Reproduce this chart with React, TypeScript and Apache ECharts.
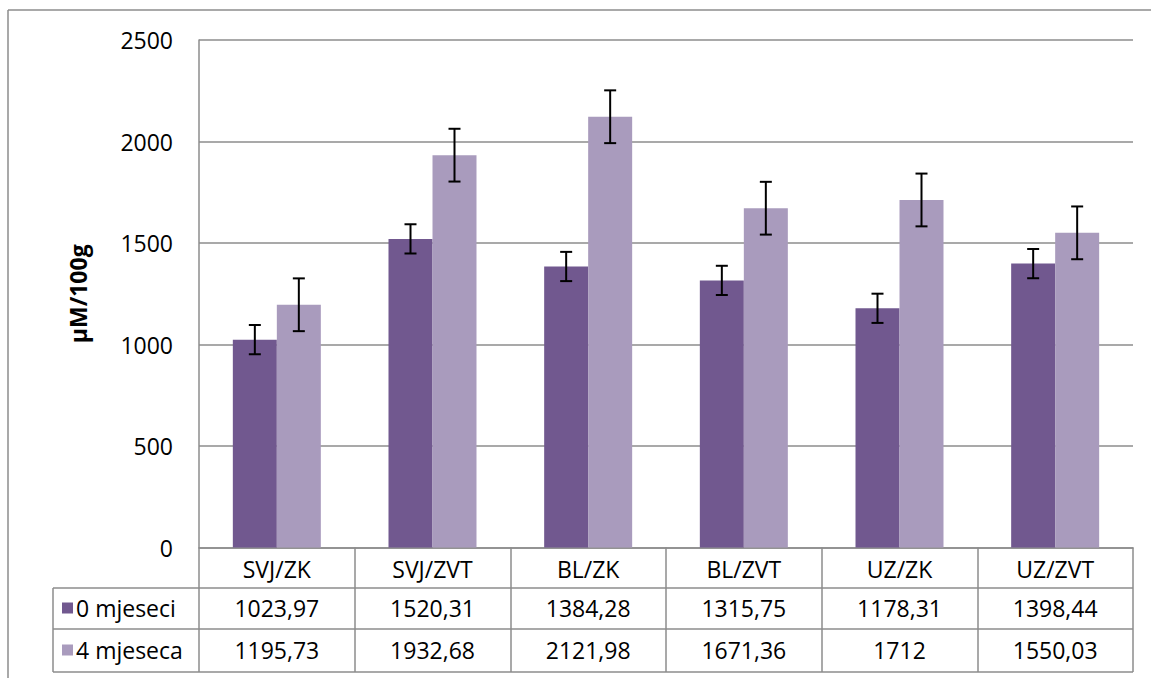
import React, { useEffect, useRef } from "react";
import * as echarts from "echarts";

const categories = ["SVJ/ZK", "SVJ/ZVT", "BL/ZK", "BL/ZVT", "UZ/ZK", "UZ/ZVT"];
const seriesNames = ["0 mjeseci", "4 mjeseca"];
const values0 = [1023.97, 1520.31, 1384.28, 1315.75, 1178.31, 1398.44];
const values1 = [1195.73, 1932.68, 2121.98, 1671.36, 1712, 1550.03];
const errors0 = [72, 72, 72, 72, 72, 72];
const errors1 = [130, 130, 130, 130, 130, 130];
const yMin = 0;
const yMax = 2500;
const yInterval = 500;
const yAxisTitle = "µM/100g";

const COLORS = ["#71588F", "#A99BBD"];
const GRID_COLOR = "#8C8C8C";
const FONT = "Open Sans";
const FS = 23;
const BAR_W = 44;

const W = 1151;
const H = 678;
const GRID_LEFT = 199;
const GRID_RIGHT = 1133;
const GRID_TOP = 40;
const GRID_BOTTOM = 547.5;
const TABLE_LEFT = 53;
const ROW_LINES = [588, 629, 672];
const ROW_CENTERS = [608, 650];

const fmt = (v: number) => String(v).replace(".", ",");

export default function App() {
  const ref = useRef<HTMLDivElement>(null);
  useEffect(() => {
    if (!ref.current) return;
    const chart = echarts.init(ref.current, undefined, { renderer: "svg" });
    const allValues = [values0, values1];
    const allErrors = [errors0, errors1];
    const errData: number[][] = [];
    allValues.forEach((vals, s) => {
      vals.forEach((v, i) => {
        errData.push([i, v - allErrors[s][i], v + allErrors[s][i], s]);
      });
    });

    chart.setOption({
      animation: false,
      textStyle: { fontFamily: FONT },
      grid: {
        left: GRID_LEFT,
        right: W - GRID_RIGHT,
        top: GRID_TOP,
        bottom: H - GRID_BOTTOM,
        containLabel: false,
      },
      xAxis: {
        type: "category",
        data: categories,
        axisLine: { show: true, lineStyle: { color: GRID_COLOR, width: 1.5 } },
        axisTick: {
          show: true,
          interval: 0,
          length: ROW_LINES[2] - GRID_BOTTOM,
          lineStyle: { color: GRID_COLOR, width: 1.5 },
        },
        axisLabel: {
          interval: 0,
          fontSize: FS,
          fontFamily: FONT,
          color: "#000",
          margin: 8,
          lineHeight: 26,
        },
      },
      yAxis: {
        type: "value",
        min: yMin,
        max: yMax,
        interval: yInterval,
        name: yAxisTitle,
        nameLocation: "middle",
        nameRotate: 90,
        nameGap: 110,
        nameTextStyle: { fontSize: FS, fontWeight: "bold", fontFamily: FONT, color: "#000" },
        axisLine: { show: true, lineStyle: { color: GRID_COLOR, width: 1.5 } },
        axisTick: { show: false },
        axisLabel: {
          fontSize: FS,
          fontFamily: FONT,
          color: "#000",
          margin: 26,
          formatter: (v: number) => String(v),
        },
        splitLine: { show: true, lineStyle: { color: GRID_COLOR, width: 1.5 } },
      },
      series: [
        {
          name: seriesNames[0],
          type: "bar",
          data: values0,
          barWidth: BAR_W,
          barGap: "0%",
          itemStyle: { color: COLORS[0] },
        },
        {
          name: seriesNames[1],
          type: "bar",
          data: values1,
          barWidth: BAR_W,
          barGap: "0%",
          itemStyle: { color: COLORS[1] },
        },
        {
          type: "custom",
          z: 10,
          data: errData,
          encode: { x: 0, y: [1, 2] },
          renderItem: (params: any, api: any) => {
            const cat = api.value(0);
            const lo = api.coord([cat, api.value(1)]);
            const hi = api.coord([cat, api.value(2)]);
            const s = api.value(3);
            const x = lo[0] + (s === 0 ? -BAR_W / 2 : BAR_W / 2);
            const cap = 6;
            const st = { stroke: "#000", lineWidth: 2 };
            return {
              type: "group",
              children: [
                { type: "line", shape: { x1: x, y1: hi[1], x2: x, y2: lo[1] }, style: st },
                { type: "line", shape: { x1: x - cap, y1: hi[1], x2: x + cap, y2: hi[1] }, style: st },
                { type: "line", shape: { x1: x - cap, y1: lo[1], x2: x + cap, y2: lo[1] }, style: st },
              ],
            };
          },
        },
      ],
    });

    const xs = categories.map((_, i) => chart.convertToPixel({ xAxisIndex: 0 }, i) as number);
    const lineStyle = { stroke: GRID_COLOR, lineWidth: 1.5 };
    const graphics: any[] = [];
    // outer chart border
    graphics.push({ type: "line", shape: { x1: 8, y1: 10, x2: W, y2: 10 }, style: lineStyle });
    graphics.push({ type: "line", shape: { x1: 8, y1: 10, x2: 8, y2: H }, style: lineStyle });
    // table lines
    ROW_LINES.forEach((y) => {
      graphics.push({ type: "line", shape: { x1: TABLE_LEFT, y1: y, x2: GRID_RIGHT, y2: y }, style: lineStyle });
    });
    graphics.push({
      type: "line",
      shape: { x1: TABLE_LEFT, y1: ROW_LINES[0], x2: TABLE_LEFT, y2: ROW_LINES[2] },
      style: lineStyle,
    });
    // legend cells & values
    allValues.forEach((vals, s) => {
      const cy = ROW_CENTERS[s];
      graphics.push({
        type: "rect",
        shape: { x: 62, y: cy - 5.5, width: 11, height: 11 },
        style: { fill: COLORS[s] },
      });
      graphics.push({
        type: "text",
        x: 76,
        y: cy,
        style: {
          text: seriesNames[s],
          fontSize: FS,
          fontFamily: FONT,
          fill: "#000",
          textAlign: "left",
          textVerticalAlign: "middle",
        },
      });
      vals.forEach((v, i) => {
        graphics.push({
          type: "text",
          x: xs[i],
          y: cy,
          style: {
            text: fmt(v),
            fontSize: FS,
            fontFamily: FONT,
            fill: "#000",
            textAlign: "center",
            textVerticalAlign: "middle",
          },
        });
      });
    });
    chart.setOption({ graphic: graphics });

    return () => chart.dispose();
  }, []);

  return (
    <div
      ref={ref}
      style={{ position: "absolute", left: 0, top: 0, width: W, height: H, background: "#fff" }}
    />
  );
}
